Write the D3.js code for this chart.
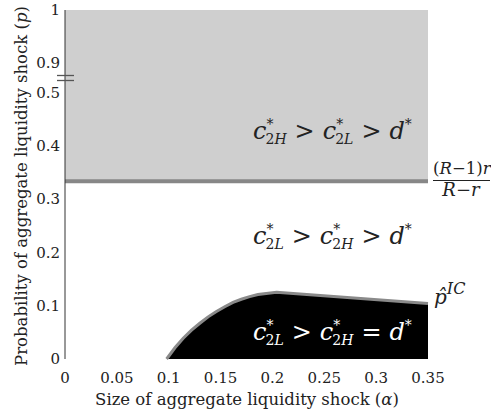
<!DOCTYPE html>
<html><head><meta charset="utf-8">
<script src="https://cdn.jsdelivr.net/npm/d3@7"></script>
<style>body{margin:0;background:#fff}svg{display:block}</style>
</head><body><svg id="c" width="491" height="415" font-family="'DejaVu Serif', serif"></svg>
<script>
const alphaTicks = [0, 0.05, 0.1, 0.15, 0.2, 0.25, 0.3, 0.35];
const alphaTickLabels = ["0", "0.05", "0.1", "0.15", "0.2", "0.25", "0.3", "0.35"];
const pTicks = [0, 0.1, 0.2, 0.3, 0.4, 0.5, 0.9, 1];
const pTickLabels = ["0", "0.1", "0.2", "0.3", "0.4", "0.5", "0.9", "1"];
const pThreshold = 1 / 3;
const icAlpha = [0.098, 0.106, 0.114, 0.122, 0.130, 0.138, 0.146, 0.154, 0.162, 0.170, 0.178, 0.186, 0.194, 0.204, 0.35];
const icP = [0, 0.021, 0.039, 0.054, 0.067, 0.079, 0.089, 0.098, 0.106, 0.112, 0.117, 0.121, 0.123, 0.125, 0.104];

const svg = d3.select("#c");
const ink = "#222";
const x = d3.scaleLinear().domain([0, 0.35]).range([65, 428]);
const y = d3.scaleLinear().domain([0, 0.5, 0.9, 1]).range([359, 92.3, 62.5, 10]);

// gray region
svg.append("rect").attr("x", x(0)).attr("y", y(1))
  .attr("width", x(0.35) - x(0)).attr("height", y(pThreshold) - y(1))
  .attr("fill", "#cfcfcf");
svg.append("line").attr("x1", x(0)).attr("x2", x(0.35))
  .attr("y1", y(pThreshold)).attr("y2", y(pThreshold))
  .attr("stroke", "#878787").attr("stroke-width", 4);

// black region
const pts = icAlpha.map((a, i) => [a, icP[i]]);
const area = d3.area().x(d => x(d[0])).y0(y(0)).y1(d => y(d[1]));
svg.append("path").datum(pts).attr("d", area).attr("fill", "#000");
const line = d3.line().x(d => x(d[0])).y(d => y(d[1]));
svg.append("path").datum(pts).attr("d", line).attr("fill", "none")
  .attr("stroke", "#8a8a8a").attr("stroke-width", 3);

// y axis line
svg.append("line").attr("x1", x(0)).attr("x2", x(0)).attr("y1", y(1)).attr("y2", y(0))
  .attr("stroke", "#333").attr("stroke-width", 1);
// axis break marks
[75.5, 80.5].forEach(yy => svg.append("line").attr("x1", 57).attr("x2", 74)
  .attr("y1", yy).attr("y2", yy).attr("stroke", "#555").attr("stroke-width", 1.3));

// tick labels
svg.append("g").selectAll("text").data(pTicks).join("text")
  .attr("x", 60).attr("y", d => y(d)).attr("dy", "0.35em").attr("text-anchor", "end")
  .attr("font-size", 15).attr("fill", ink).text((d, i) => pTickLabels[i]);
svg.append("g").selectAll("text").data(alphaTicks).join("text")
  .attr("x", d => x(d)).attr("y", 383).attr("text-anchor", "middle")
  .attr("font-size", 15).attr("fill", ink).text((d, i) => alphaTickLabels[i]);

// axis titles
svg.append("text").attr("x", 247).attr("y", 405).attr("text-anchor", "middle")
  .attr("font-size", 16.5).attr("fill", ink)
  .html('Size of aggregate liquidity shock (<tspan font-style="italic">α</tspan>)');
svg.append("text").attr("transform", "translate(27,186) rotate(-90)").attr("text-anchor", "middle")
  .attr("font-size", 16.5).attr("fill", ink)
  .html('Probability of aggregate liquidity shock (<tspan font-style="italic">p</tspan>)');

// math labels
function cterm(sub) {
  return '<tspan font-style="italic">c</tspan><tspan dy="-10" font-size="14">*</tspan>' +
         '<tspan dy="15" dx="-8" font-size="14">2<tspan font-style="italic">' + sub + '</tspan></tspan>';
}
function dterm() {
  return '<tspan font-style="italic">d</tspan><tspan dy="-10" font-size="14">*</tspan>';
}
function mathLabel(xx, yy, a, op1, b, op2, color) {
  svg.append("text").attr("x", xx).attr("y", yy).attr("font-size", 24).attr("fill", color)
    .html(cterm(a) + '<tspan dy="-5" dx="8">' + op1 + '</tspan><tspan dx="8">' + cterm(b) + '</tspan>' +
          '<tspan dy="-5" dx="8">' + op2 + '</tspan><tspan dx="8">' + dterm() + '</tspan>');
}
mathLabel(253, 139, "H", "&gt;", "L", "&gt;", ink);
mathLabel(253, 244, "L", "&gt;", "H", "&gt;", ink);
mathLabel(253, 340, "L", "&gt;", "H", "=", "#fff");

// fraction label
svg.append("text").attr("x", 433).attr("y", 174).attr("font-size", 16.5).attr("fill", ink)
  .html('(<tspan font-style="italic">R</tspan>−1)<tspan font-style="italic">r</tspan>');
svg.append("line").attr("x1", 433).attr("x2", 490).attr("y1", 180.5).attr("y2", 180.5)
  .attr("stroke", ink).attr("stroke-width", 1);
svg.append("text").attr("x", 461).attr("y", 196).attr("font-size", 18).attr("text-anchor", "middle").attr("fill", ink)
  .html('<tspan font-style="italic">R</tspan>−<tspan font-style="italic">r</tspan>');

// p-hat IC
svg.append("text").attr("x", 434).attr("y", 304).attr("font-size", 20).attr("fill", ink)
  .html('<tspan font-style="italic">p̂</tspan><tspan dy="-10" font-size="16" font-style="italic">IC</tspan>');
</script></body></html>
